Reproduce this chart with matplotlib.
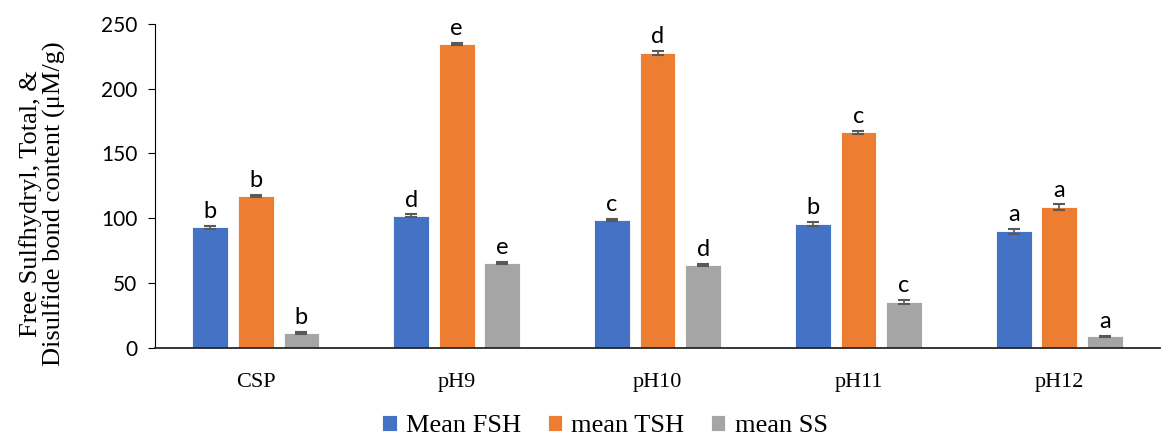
import numpy as np
import matplotlib.pyplot as plt

categories = ['CSP', 'pH9', 'pH10', 'pH11', 'pH12']
fsh = [93, 102, 99, 95.5, 90]
tsh = [117, 234.5, 227.5, 166.5, 108.5]
ss = [11.5, 65.5, 64, 35.5, 9]
fsh_err = [1.0, 1.0, 0.8, 1.5, 1.8]
tsh_err = [0.8, 0.8, 1.5, 1.2, 2.2]
ss_err = [0.6, 0.6, 0.8, 1.3, 0.6]
fsh_let = ['b', 'd', 'c', 'b', 'a']
tsh_let = ['b', 'e', 'd', 'c', 'a']
ss_let = ['b', 'e', 'd', 'c', 'a']

series = [
    ('Mean FSH', fsh, fsh_err, fsh_let, '#4472C4'),
    ('mean TSH', tsh, tsh_err, tsh_let, '#ED7D31'),
    ('mean SS', ss, ss_err, ss_let, '#A5A5A5'),
]

fig = plt.figure(figsize=(11.68, 4.41), dpi=100)
ax = fig.add_axes([0.133, 0.211, 0.860, 0.735])

x = np.arange(len(categories))
width = 0.178
step = 0.227
for i, (name, vals, errs, lets, color) in enumerate(series):
    pos = x + (i - 1) * step
    ax.bar(pos, vals, width, color=color, label=name, edgecolor='white', linewidth=0.6)
    ax.errorbar(pos, vals, yerr=errs, fmt='none', ecolor='#595959', elinewidth=1.2,
                capsize=4, capthick=1.5)
    for p, v, e, l in zip(pos, vals, errs, lets):
        ax.text(p, v + e + 3, l, ha='center', va='bottom', fontsize=17, family='Lato')

ax.set_xlim(-0.5, len(categories) - 0.5)
ax.set_ylim(0, 250)
ax.set_yticks([0, 50, 100, 150, 200, 250])
ax.set_xticks(x)
ax.set_xticklabels(categories, family='Liberation Serif', fontsize=16)
for t in ax.get_yticklabels():
    t.set_family('Lato')
    t.set_fontsize(15)
ax.tick_params(axis='x', length=0, pad=18)
ax.tick_params(axis='y', length=5, direction='out', pad=8)
ax.spines['top'].set_visible(False)
ax.spines['right'].set_visible(False)
ax.spines['bottom'].set_color('#262626')
ax.spines['bottom'].set_linewidth(1.3)
ax.set_ylabel('Free Sulfhydryl, Total, &\nDisulfide bond content (\u03bcM/g)',
              family='Liberation Serif', fontsize=19, linespacing=1.05)
ax.yaxis.set_label_coords(-0.089, 0.445)

fig.legend(loc='lower center', bbox_to_anchor=(0.518, -0.045), ncol=3, frameon=False,
           prop={'family': 'Liberation Serif', 'size': 19}, handlelength=0.55,
           handleheight=0.55, handletextpad=0.35, columnspacing=1.0)

fig.savefig('out.png', dpi=100)
